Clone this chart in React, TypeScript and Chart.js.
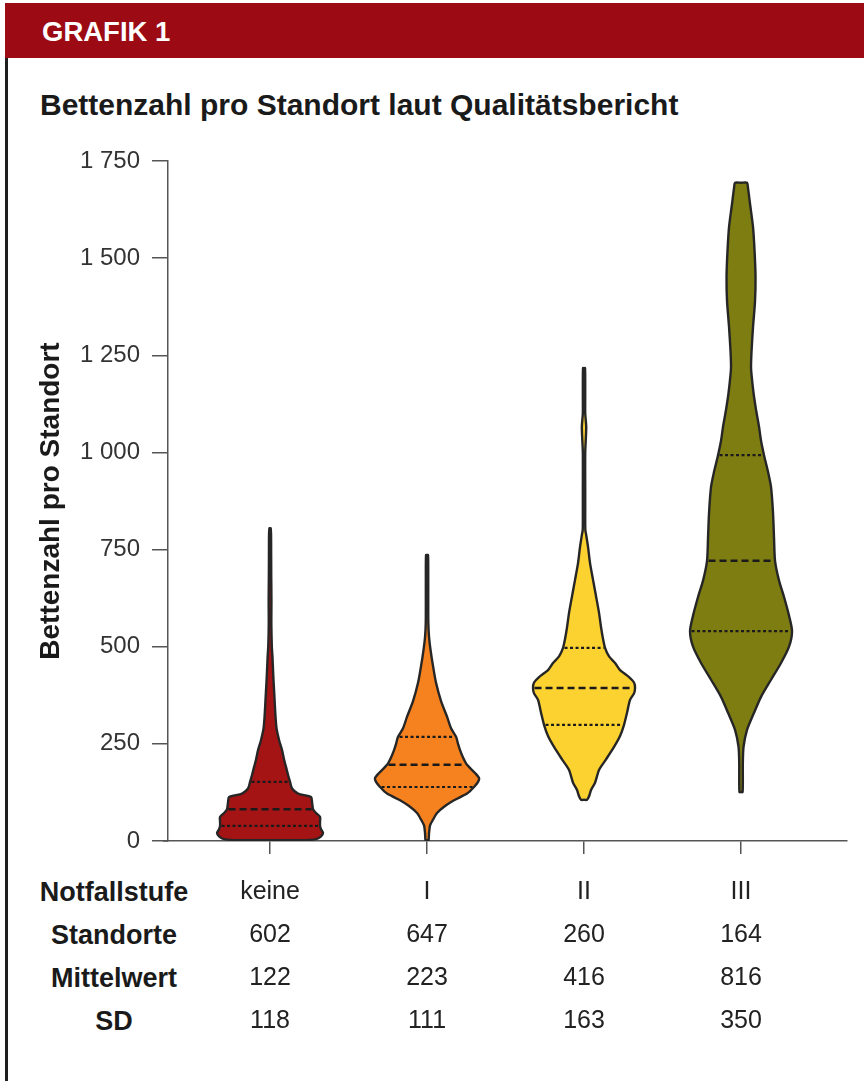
import React, { useEffect, useRef } from "react";
import { Chart, registerables } from "chart.js";

Chart.register(...registerables);

const FONT = '"Liberation Sans", Arial, Helvetica, sans-serif';

// Table / category data
const categories = ["keine", "I", "II", "III"];
const standorte = ["602", "647", "260", "164"];
const mittelwert = ["122", "223", "416", "816"];
const sdValues = ["118", "111", "163", "350"];
const rowHeaders = ["Notfallstufe", "Standorte", "Mittelwert", "SD"];

// Y axis ticks
const yTickValues = [0, 250, 500, 750, 1000, 1250, 1500, 1750];
const yTickLabels = ["0", "250", "500", "750", "1 000", "1 250", "1 500", "1 750"];

// Violin colours
const violinColors = ["#a41414", "#f5821f", "#fcd230", "#7e7d12"];

// Violin outlines: bed counts (y) and density half-widths
const keineY = [2, 5, 12, 21, 30, 39, 50, 62, 72, 82, 100, 113, 122, 135, 152, 170, 190, 210, 234, 260, 290, 319, 350, 380, 407, 440, 475, 500, 560, 620, 680, 740, 790, 805];
const keineW = [30, 46, 51, 53, 51, 50, 50, 50, 46, 43, 42, 41, 28, 22, 20, 18, 16, 14, 12, 9, 6.5, 5.5, 4.8, 4.2, 3.6, 3, 2.4, 1.8, 1.3, 1.4, 1.2, 1.1, 1, 0.6];

const stufe1Y = [2, 20, 40, 55, 72, 90, 105, 122, 139, 152, 162, 175, 196, 215, 234, 250, 268, 290, 320, 360, 407, 450, 492, 525, 560, 620, 680, 736];
const stufe1W = [1.5, 2, 3, 6, 10, 18, 27, 40, 47, 51, 52, 48, 40, 36, 33, 31, 29, 24, 20, 14, 9, 6, 3.5, 2, 1.3, 1.2, 1.2, 1];

const stufe2Y = [106, 115, 131, 150, 183, 210, 242, 270, 299, 330, 363, 380, 394, 408, 422, 440, 458, 475, 497, 520, 550, 587, 630, 672, 715, 757, 790, 800, 850, 900, 1000, 1065, 1100, 1150, 1217];
const stufe2W = [3, 5, 7, 11, 15, 22, 30, 36, 40, 43, 46, 50, 51, 50, 45, 36, 31, 25, 21, 19, 17, 15, 12, 9, 6, 4, 2, 1.3, 1.2, 1.2, 1.2, 2.2, 1.2, 1.2, 1];

const stufe3Y = [126, 200, 242, 286, 330, 371, 415, 458, 500, 540, 580, 628, 670, 721, 780, 844, 911, 950, 993, 1030, 1066, 1110, 1153, 1200, 1220, 1260, 1323, 1390, 1452, 1520, 1580, 1640, 1680, 1694];
const stufe3W = [1.6, 1.8, 2.5, 6, 13, 20, 30, 40, 48, 51, 48, 43, 38, 34, 33, 32, 30, 27, 23, 20, 18, 15, 12.5, 10.5, 10, 10.5, 12, 14, 14.5, 13.5, 12, 9, 7, 6];

// Quartiles [Q1, median, Q3]
const quartiles = [
  [39, 82, 152],
  [139, 196, 268],
  [299, 394, 497],
  [540, 721, 993],
];

const violinYs = [keineY, stufe1Y, stufe2Y, stufe3Y];
const violinWs = [keineW, stufe1W, stufe2W, stufe3W];

const DENSITY_SCALE = 1 / 157;

function violinPoints(center: number, ys: number[], ws: number[]) {
  const right = ys.map((y, i) => ({ x: center + ws[i] * DENSITY_SCALE, y }));
  const left = ys.map((y, i) => ({ x: center - ws[i] * DENSITY_SCALE, y })).reverse();
  return [
    { x: center, y: ys[0] },
    ...right,
    { x: center, y: ys[ys.length - 1] },
    ...left,
    { x: center, y: ys[0] },
  ];
}

function widthAt(ys: number[], ws: number[], v: number) {
  for (let i = 0; i < ys.length - 1; i++) {
    if (v >= ys[i] && v <= ys[i + 1]) {
      const t = (v - ys[i]) / (ys[i + 1] - ys[i]);
      return ws[i] + t * (ws[i + 1] - ws[i]);
    }
  }
  return 0;
}

export default function App() {
  const canvasRef = useRef<HTMLCanvasElement | null>(null);

  useEffect(() => {
    const canvas = canvasRef.current;
    if (!canvas) return;

    const datasets: any[] = [];
    categories.forEach((_, i) => {
      const c = i + 1;
      datasets.push({
        data: violinPoints(c, violinYs[i], violinWs[i]),
        showLine: true,
        fill: "shape",
        backgroundColor: violinColors[i],
        borderColor: "#262626",
        borderWidth: 2.4,
        pointRadius: 0,
        tension: 0.25,
        order: 2,
      });
      quartiles[i].forEach((q, k) => {
        const w = Math.max(0, widthAt(violinYs[i], violinWs[i], q) - 1.5) * DENSITY_SCALE;
        datasets.push({
          data: [
            { x: c - w, y: q },
            { x: c + w, y: q },
          ],
          showLine: true,
          fill: false,
          borderColor: "#1a1a1a",
          borderWidth: k === 1 ? 2.5 : 2.2,
          borderDash: k === 1 ? [7, 4] : [3, 2.5],
          pointRadius: 0,
          order: 1,
        });
      });
    });

    const axisLinePlugin = {
      id: "axisExtend",
      afterDraw(chart: any) {
        const { ctx, chartArea } = chart;
        ctx.save();
        ctx.strokeStyle = "#555";
        ctx.lineWidth = 1.5;
        ctx.beginPath();
        ctx.moveTo(chartArea.left - 5, chartArea.bottom);
        ctx.lineTo(chartArea.left, chartArea.bottom);
        ctx.stroke();
        ctx.restore();
      },
    };

    const chart = new Chart(canvas, {
      type: "scatter",
      data: { datasets },
      plugins: [axisLinePlugin],
      options: {
        animation: false,
        responsive: false,
        maintainAspectRatio: false,
        layout: { padding: { top: 31, right: 17, bottom: 0, left: 0 } },
        plugins: {
          legend: { display: false },
          tooltip: { enabled: false },
        },
        scales: {
          x: {
            type: "linear",
            min: 0.35,
            max: 4.675,
            afterBuildTicks: (s: any) => {
              s.ticks = categories.map((_, i) => ({ value: i + 1 }));
            },
            afterFit: (s: any) => {
              s.height = 240;
            },
            ticks: {
              autoSkip: false,
              maxRotation: 0,
              padding: 17,
              color: "#222",
              font: { family: FONT, size: 25, lineHeight: 1.72 },
              callback: (v: any) => {
                const i = Math.round(Number(v)) - 1;
                return [categories[i], standorte[i], mittelwert[i], sdValues[i]];
              },
            },
            grid: {
              drawOnChartArea: false,
              drawTicks: true,
              tickLength: 13,
              color: "#555",
              lineWidth: 1.5,
            },
            border: { color: "#555", width: 1.5 },
          },
          y: {
            type: "linear",
            min: 0,
            max: 1750,
            afterBuildTicks: (s: any) => {
              s.ticks = yTickValues.map((v) => ({ value: v }));
            },
            afterFit: (s: any) => {
              s.width = 160;
            },
            ticks: {
              padding: 12,
              color: "#333",
              font: { family: FONT, size: 24 },
              callback: (v: any) => yTickLabels[yTickValues.indexOf(Number(v))],
            },
            grid: {
              drawOnChartArea: false,
              drawTicks: true,
              tickLength: 16,
              color: "#555",
              lineWidth: 1.5,
            },
            border: { color: "#555", width: 1.5 },
            title: {
              display: true,
              text: "Bettenzahl pro Standort",
              color: "#1a1a1a",
              font: { family: FONT, size: 28, weight: "bold" },
              padding: { top: 26, bottom: 0 },
            },
          },
        },
      } as any,
    });

    return () => chart.destroy();
  }, []);

  return (
    <div
      style={{
        position: "fixed",
        left: 0,
        top: 0,
        width: 864,
        height: 1081,
        background: "#fff",
        fontFamily: FONT,
        overflow: "hidden",
      }}
    >
      <div
        style={{
          position: "absolute",
          left: 5,
          top: 3,
          width: 859,
          height: 55,
          background: "#9c0b13",
        }}
      />
      <div
        style={{
          position: "absolute",
          left: 42,
          top: 14,
          color: "#fff",
          fontWeight: "bold",
          fontSize: 27.5,
          lineHeight: "36px",
        }}
      >
        GRAFIK 1
      </div>
      <div
        style={{
          position: "absolute",
          left: 5,
          top: 58,
          width: 3,
          height: 1023,
          background: "#1e1e1e",
        }}
      />
      <div
        style={{
          position: "absolute",
          left: 40,
          top: 86,
          color: "#1a1a1a",
          fontWeight: "bold",
          fontSize: 30,
          lineHeight: "38px",
          whiteSpace: "nowrap",
        }}
      >
        Bettenzahl pro Standort laut Qualitätsbericht
      </div>
      <div
        style={{
          position: "absolute",
          left: 30,
          top: 871,
          width: 168,
          textAlign: "center",
          color: "#1a1a1a",
          fontWeight: "bold",
          fontSize: 27,
        }}
      >
        {rowHeaders.map((h) => (
          <div key={h} style={{ height: 43, lineHeight: "43px", whiteSpace: "nowrap" }}>
            {h}
          </div>
        ))}
      </div>
      <canvas
        ref={canvasRef}
        width={856}
        height={951}
        style={{ position: "absolute", left: 8, top: 130, width: 856, height: 951 }}
      />
    </div>
  );
}
